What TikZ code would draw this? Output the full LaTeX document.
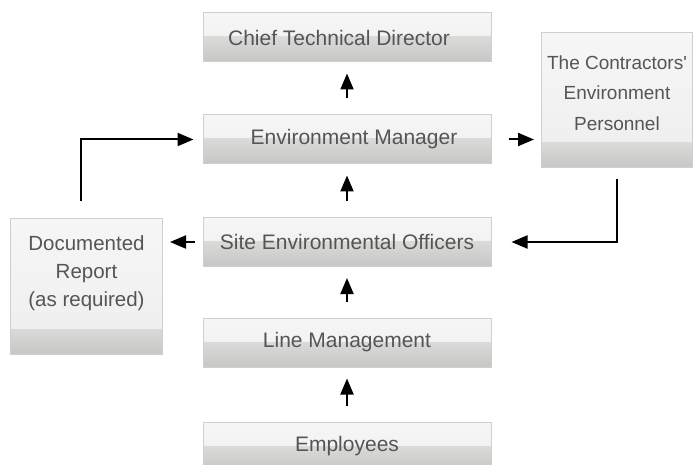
\documentclass[tikz,border=0pt]{standalone}
\usepackage{fontspec}
\setmainfont{Liberation Sans}
\usetikzlibrary{arrows.meta}

\definecolor{boxtop}{HTML}{F6F6F6}
\definecolor{boxmid}{HTML}{EEEEEE}
\definecolor{bandtop}{HTML}{DADAD8}
\definecolor{bandbot}{HTML}{C6C6C4}
\definecolor{boxline}{HTML}{CFCFCF}
\definecolor{txt}{HTML}{555555}

\tikzset{
  orgbox/.style={
    draw=boxline, line width=1pt, rectangle, text=txt, align=center,
    inner sep=0pt,
    path picture={
      \fill[top color=boxtop, bottom color=boxmid]
        (path picture bounding box.north west) rectangle
        ([yshift=25pt]path picture bounding box.south east);
      \fill[top color=bandtop, bottom color=bandbot]
        ([yshift=25pt]path picture bounding box.south west) rectangle
        (path picture bounding box.south east);
    }
  },
  wide/.style={orgbox, minimum width=288pt, minimum height=49pt,
    font=\fontsize{21}{25}\selectfont},
  boxtext/.style={text=txt, align=center, inner sep=0pt},
  link/.style={line width=2pt, -{Triangle[length=16pt,width=13pt]}},
}

\begin{document}
\begin{tikzpicture}[x=1pt,y=-1pt]
  \useasboundingbox (0,0) rectangle (693,465);
  \clip (0,0) rectangle (693,465);

  % main chain of boxes
  \node[wide] (ctd) at (347,37.5) {\hspace*{-16pt}Chief Technical Director};
  \node[wide] (em)  at (347,139.5) {\hspace*{14pt}Environment Manager};
  \node[wide] (seo) at (347,242) {Site Environmental Officers};
  \node[wide] (lm)  at (347,342.5) {Line Management};
  \node[wide] (emp) at (347,446.5) {Employees};

  % side boxes, with their text set above the grey band
  \node[orgbox, minimum width=151pt, minimum height=135pt] (ctr) at (617,100.5) {};
  \node[boxtext, font=\fontsize{19}{30.5}\selectfont] (ctrtext) at (617,93)
        {The Contractors\textquotesingle\\Environment\\Personnel};
  \node[orgbox, minimum width=152pt, minimum height=136pt] (doc) at (86.5,286) {};
  \node[boxtext, font=\fontsize{20.5}{28}\selectfont] (doctext) at (86.5,273)
        {Documented\\Report\\(as required)};

  % reporting arrows up the chain
  \draw[link, shorten <=16pt, shorten >=11pt] (em.north) -- (ctd.south);
  \draw[link, shorten <=16pt, shorten >=11pt] (seo.north) -- (em.south);
  \draw[link, shorten <=16pt, shorten >=11pt] (lm.north) -- (seo.south);
  \draw[link, shorten <=16pt, shorten >=11pt] (emp.north) -- (lm.south);

  % side connections
  \draw[link, shorten <=17pt, shorten >=7pt] (em.east) -- (em.east -| ctr.west);
  \draw[link, shorten <=8pt, shorten >=7pt] (seo.west) -- (seo.west -| doc.east);
  \draw[link, shorten <=11pt, shorten >=20pt] (ctr.south) |- (seo.east);
  \draw[link, shorten <=16pt, shorten >=9pt] ([xshift=-5.5pt]doc.north) |- (em.west);
\end{tikzpicture}
\end{document}
